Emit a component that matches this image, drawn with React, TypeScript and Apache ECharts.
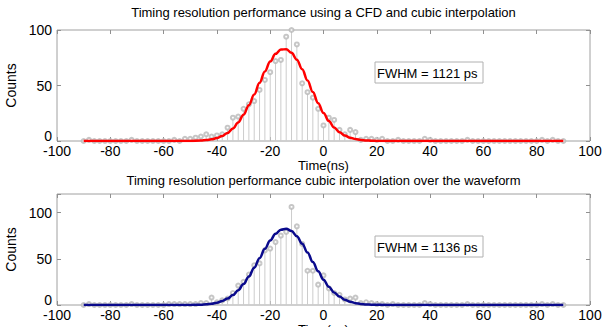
import React, { useEffect, useRef } from 'react';
import * as echarts from 'echarts';

// Stem positions (ns)
const times = [
  -90, -88, -86, -84, -82, -80, -78, -76, -74, -72,
  -70, -68, -66, -64, -62, -60, -58, -56, -54, -52,
  -50, -48, -46, -44, -42, -40, -38, -36, -34, -32,
  -30, -28, -26, -24, -22, -20, -18, -16, -14, -12,
  -10, -8, -6, -4, -2, 0, 2, 4, 6, 8,
  10, 12, 14, 16, 18, 20, 22, 24, 26, 28,
  30, 32, 34, 36, 38, 40, 42, 44, 46, 48,
  50, 52, 54, 56, 58, 60, 62, 64, 66, 68,
  70, 72, 74, 76, 78, 80, 82, 84, 86, 88,
  90,
];

// Histogram counts – CFD + cubic interpolation (top)
const countsCFD = [
  0, 1, 0, 0, 0, 0, 0, 0, 0, 1,
  0, 0, 0, 0, 0, 0, 0, 1, 0, 2,
  2, 3, 4, 6, 4, 5, 6, 12, 21, 22,
  29, 33, 36, 46, 55, 62, 72, 73, 94, 100,
  87, 52, 44, 39, 29, 14, 21, 19, 10, 6,
  10, 8, 1, 2, 2, 1, 2, 0, 0, 1,
  0, 0, 0, 0, 2, 1, 0, 0, 0, 0,
  0, 0, 1, 0, 0, 0, 0, 0, 0, 0,
  0, 0, 0, 0, 0, 0, 1, 0, 1, 0,
  0,
];

// Histogram counts – cubic interpolation over the waveform (bottom)
const countsWave = [
  0, 1, 0, 0, 0, 0, 0, 0, 0, 1,
  0, 0, 0, 0, 0, 0, 1, 1, 1, 1,
  1, 1, 2, 2, 8, 3, 5, 7, 13, 21,
  25, 33, 43, 45, 59, 61, 68, 75, 79, 106,
  85, 66, 37, 37, 22, 32, 18, 13, 11, 6,
  7, 8, 2, 3, 2, 1, 1, 0, 1, 0,
  0, 0, 0, 0, 2, 1, 0, 0, 0, 0,
  0, 0, 1, 0, 0, 0, 0, 0, 0, 0,
  0, 0, 0, 0, 0, 0, 1, 0, 1, 0,
  0,
];

// Gaussian fit curves
const fitTimes = [
  -90, -60, -50, -46, -44, -42, -40, -38, -36, -34, -32, -30, -28, -26, -24, -22,
  -20, -18, -16, -14, -12, -10, -8, -6, -4, -2, 0, 2, 4, 6, 8, 10, 12, 14, 16, 18,
  24, 30, 40, 60, 90,
];
const fitCFD = [
  0, 0, 0.1, 0.4, 0.8, 1.5, 2.6, 4.5, 7.3, 11.2, 16.7, 23.7, 32.3, 42, 52.4, 62.7,
  71.7, 78.5, 82.4, 82.7, 79.5, 73.3, 64.6, 54.5, 44.1, 34.1, 25.3, 18, 12.2, 7.9, 4.9, 3.0, 1.7, 0.9, 0.5, 0.2,
  0, 0, 0, 0, 0,
];
const fitWave = [
  0, 0, 0.1, 0.4, 0.8, 1.4, 2.5, 4.3, 6.9, 10.7, 15.9, 22.6, 30.9, 40.4, 50.6, 60.7,
  69.8, 77, 81.4, 82.4, 80, 74.4, 66.3, 56.7, 46.5, 36.4, 27.4, 19.8, 13.6, 9.1, 5.7, 3.5, 2.0, 1.1, 0.6, 0.3,
  0, 0, 0, 0, 0,
];

const titles = [
  'Timing resolution performance using a CFD and cubic interpolation',
  'Timing resolution performance cubic interpolation over the waveform',
];
const fwhmLabels = ['FWHM = 1121 ps', 'FWHM = 1136 ps'];
const xLabel = 'Time(ns)';
const yLabel = 'Counts';
const yMax = [100, 120];
const yZeroLabel = '0';

const FONT = '"Liberation Sans", Arial, Helvetica, sans-serif';

export default function App() {
  const ref = useRef<HTMLDivElement>(null);

  useEffect(() => {
    const chart = echarts.init(ref.current!, null, { renderer: 'svg' });

    const gridTops = [30, 194];
    const zeroLift = [5, 5];
    const gridH = 111;
    const gridL = 57;
    const gridW = 533;

    const grids = gridTops.map((top) => ({
      left: gridL,
      top,
      width: gridW,
      height: gridH,
      containLabel: false,
      outerBoundsMode: 'none',
      show: true,
      borderColor: '#a0a0a0',
      borderWidth: 1,
      backgroundColor: '#fff',
    }));

    const tick = { show: true, inside: true, length: 4, lineStyle: { color: '#909090' } };
    const xAxes: any[] = [];
    const yAxes: any[] = [];
    [0, 1].forEach((g) => {
      xAxes.push({
        type: 'value',
        gridIndex: g,
        min: -100,
        max: 100,
        interval: 20,
        position: 'bottom',
        axisLine: { show: false, onZero: false },
        axisTick: tick,
        axisLabel: { show: true, color: '#000', fontSize: 14, margin: 3, fontFamily: FONT },
        splitLine: { show: false },
        name: xLabel,
        nameLocation: 'middle',
        nameGap: 17,
        nameTextStyle: { color: '#000', fontSize: 13, fontFamily: FONT },
      });
      xAxes.push({
        type: 'value',
        gridIndex: g,
        min: -100,
        max: 100,
        interval: 20,
        position: 'top',
        axisLine: { show: false, onZero: false },
        axisTick: tick,
        axisLabel: { show: false },
        splitLine: { show: false },
      });
      yAxes.push({
        type: 'value',
        gridIndex: g,
        min: 0,
        max: yMax[g],
        interval: 50,
        position: 'left',
        axisLine: { show: false, onZero: false },
        axisTick: tick,
        axisLabel: {
          show: true,
          color: '#000',
          fontSize: 14,
          margin: 5,
          fontFamily: FONT,
          formatter: (v: number) => (v === 50 || v === 100 ? String(v) : ''),
        },
        splitLine: { show: false },
        name: yLabel,
        nameLocation: 'middle',
        nameRotate: 90,
        nameGap: 28,
        nameTextStyle: { color: '#000', fontSize: 14, fontFamily: FONT },
      });
      yAxes.push({
        type: 'value',
        gridIndex: g,
        min: 0,
        max: yMax[g],
        interval: 50,
        position: 'right',
        axisLine: { show: false, onZero: false },
        axisTick: tick,
        axisLabel: { show: false },
        splitLine: { show: false },
      });
    });

    const sets = [
      { counts: countsCFD, fit: fitCFD, color: '#ff0000' },
      { counts: countsWave, fit: fitWave, color: '#0a0a8c' },
    ];

    const series: any[] = [];
    sets.forEach((s, g) => {
      const xi = g * 2;
      const yi = g * 2;
      series.push({
        type: 'bar',
        xAxisIndex: xi,
        yAxisIndex: yi,
        barWidth: 1,
        data: times.map((t, i) => [t, s.counts[i]]),
        itemStyle: { color: '#cccccc' },
        silent: true,
        z: 1,
      });
      series.push({
        type: 'scatter',
        xAxisIndex: xi,
        yAxisIndex: yi,
        symbol: 'emptyCircle',
        symbolSize: 4,
        data: times.map((t, i) => [t, s.counts[i]]),
        itemStyle: { color: '#b8b8b8', borderWidth: 1 },
        silent: true,
        z: 2,
      });
      series.push({
        type: 'line',
        xAxisIndex: xi,
        yAxisIndex: yi,
        data: fitTimes.map((t, i) => [t, s.fit[i]]),
        smooth: 0.4,
        smoothMonotone: 'x',
        showSymbol: false,
        lineStyle: { color: s.color, width: 2.5 },
        silent: true,
        z: 3,
      });
    });

    const boxYs = [62, 236];
    const graphic: any[] = [];
    titles.forEach((t, g) => {
      graphic.push({
        type: 'text',
        x: gridL + gridW / 2,
        y: g === 0 ? 12 : 180,
        style: {
          text: t,
          fontSize: 13,
          fontFamily: FONT,
          fill: '#000',
          align: 'center',
          verticalAlign: 'middle',
        },
        z: 10,
      });
    });
    gridTops.forEach((top, g) => {
      graphic.push({
        type: 'text',
        x: gridL - 5,
        y: top + gridH - zeroLift[g],
        style: {
          text: yZeroLabel,
          fontSize: 14,
          fontFamily: FONT,
          fill: '#000',
          align: 'right',
          verticalAlign: 'middle',
        },
        z: 10,
      });
    });
    fwhmLabels.forEach((t, g) => {
      graphic.push({
        type: 'rect',
        shape: { x: 375, y: boxYs[g], width: 108, height: 21 },
        style: { fill: '#fff', stroke: '#b0b0b0', lineWidth: 1 },
        z: 10,
      });
      graphic.push({
        type: 'text',
        x: 377,
        y: boxYs[g] + 11,
        style: {
          text: t,
          fontSize: 13,
          fontFamily: FONT,
          fill: '#000',
          align: 'left',
          verticalAlign: 'middle',
        },
        z: 11,
      });
    });

    chart.setOption({
      animation: false,
      backgroundColor: '#fff',
      textStyle: { fontFamily: FONT },
      grid: grids,
      xAxis: xAxes,
      yAxis: yAxes,
      series,
      graphic,
    });

    return () => chart.dispose();
  }, []);

  return (
    <div
      ref={ref}
      style={{ position: 'absolute', left: 0, top: 0, width: 610, height: 327, background: '#fff' }}
    />
  );
}
